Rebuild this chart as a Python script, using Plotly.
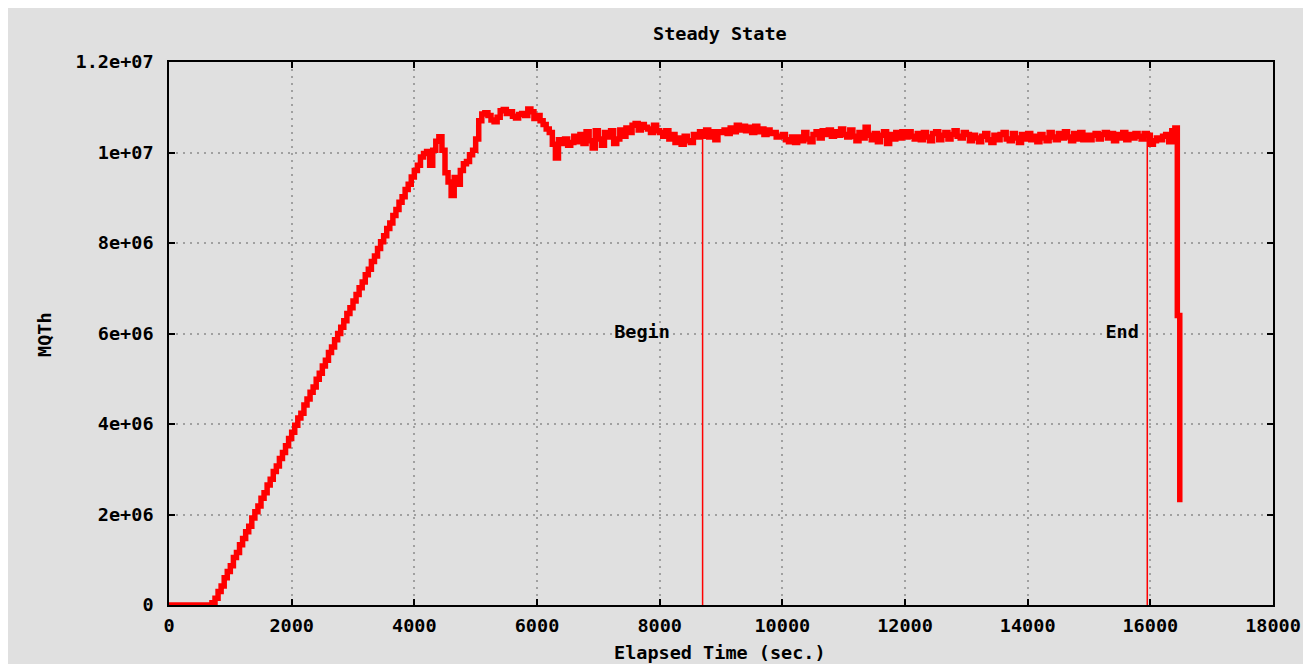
import plotly.graph_objects as go

# ---------------- data ----------------
SAMPLE_STEP_S = 50  # seconds between regular samples

# MQTh in millions, one row per 1000 s (20 samples of 50 s), starting at t = 0
mqth_regular_millions = [
    # 0 - 950
    0, 0, 0, 0, 0, 0, 0, 0, 0, 0, 0, 0, 0, 0, 0.05, 0.15, 0.30, 0.42, 0.60, 0.74,
    # 1000 - 1950
    0.87, 1.05, 1.16, 1.33, 1.47, 1.62, 1.74, 1.92, 2.06, 2.19, 2.36, 2.48, 2.65, 2.78, 2.95, 3.07, 3.24, 3.37, 3.52, 3.68,
    # 2000 - 2950
    3.82, 3.97, 4.13, 4.24, 4.42, 4.55, 4.70, 4.82, 4.99, 5.12, 5.28, 5.41, 5.58, 5.70, 5.86, 6.00, 6.14, 6.28, 6.44, 6.57,
    # 3000 - 3950
    6.72, 6.86, 7.01, 7.14, 7.30, 7.42, 7.59, 7.71, 7.88, 8.03, 8.16, 8.32, 8.44, 8.61, 8.74, 8.90, 9.02, 9.18, 9.30, 9.46,
    # 4000 - 4950
    9.60, 9.72, 9.90, 9.98, 10.02, 9.72, 10.05, 10.25, 10.35, 10.05, 9.55, 9.35, 9.05, 9.45, 9.30, 9.60, 9.75, 9.80, 9.95, 10.05,
    # 5000 - 5950
    10.30, 10.70, 10.85, 10.88, 10.82, 10.72, 10.68, 10.78, 10.92, 10.95, 10.86, 10.90, 10.80, 10.76, 10.84, 10.86, 10.82, 10.96, 10.90, 10.75,
    # 6000 - 6950
    10.82, 10.70, 10.62, 10.52, 10.44, 10.18, 9.88, 10.28, 10.20, 10.30, 10.16, 10.22, 10.36, 10.24, 10.40, 10.20, 10.46, 10.26, 10.10, 10.48,
    # 7000 - 7950
    10.30, 10.16, 10.44, 10.34, 10.48, 10.20, 10.30, 10.50, 10.36, 10.54, 10.44, 10.60, 10.64, 10.50, 10.62, 10.56, 10.52, 10.44, 10.60, 10.48,
    # 8000 - 8950
    10.44, 10.36, 10.48, 10.30, 10.40, 10.22, 10.32, 10.18, 10.36, 10.26, 10.22, 10.40, 10.34, 10.46, 10.36, 10.50, 10.34, 10.46, 10.28, 10.46,
    # 9000 - 9950
    10.44, 10.50, 10.42, 10.54, 10.46, 10.60, 10.50, 10.58, 10.48, 10.56, 10.44, 10.58, 10.46, 10.52, 10.40, 10.50, 10.42, 10.44, 10.34, 10.36,
    # 10000 - 10950
    10.40, 10.28, 10.24, 10.34, 10.22, 10.34, 10.26, 10.44, 10.30, 10.24, 10.40, 10.46, 10.32, 10.48, 10.40, 10.50, 10.36, 10.46, 10.38, 10.52,
    # 11000 - 11950
    10.40, 10.34, 10.50, 10.36, 10.26, 10.44, 10.32, 10.56, 10.38, 10.28, 10.42, 10.24, 10.38, 10.46, 10.20, 10.40, 10.30, 10.44, 10.32, 10.46,
    # 12000 - 12950
    10.34, 10.46, 10.36, 10.30, 10.42, 10.28, 10.44, 10.34, 10.26, 10.42, 10.46, 10.28, 10.38, 10.44, 10.30, 10.40, 10.48, 10.36, 10.32, 10.44,
    # 13000 - 13950
    10.40, 10.26, 10.38, 10.32, 10.24, 10.36, 10.42, 10.28, 10.22, 10.38, 10.28, 10.40, 10.44, 10.30, 10.26, 10.42, 10.32, 10.22, 10.40, 10.30,
    # 14000 - 14950
    10.42, 10.28, 10.36, 10.24, 10.40, 10.32, 10.26, 10.44, 10.34, 10.28, 10.42, 10.32, 10.46, 10.34, 10.26, 10.42, 10.30, 10.44, 10.28, 10.38,
    # 15000 - 15950
    10.28, 10.38, 10.42, 10.30, 10.40, 10.44, 10.32, 10.42, 10.26, 10.40, 10.32, 10.44, 10.28, 10.40, 10.32, 10.42, 10.36, 10.30, 10.42, 10.38,
    # 16000 - 16400
    10.18, 10.26, 10.32, 10.28, 10.36, 10.40, 10.24, 10.48, 10.54,
]

# final ramp-down samples
tail_time_s = [16440, 16480]
tail_mqth_millions = [6.40, 2.27]

# steady-state window markers
begin_time_s = 8700
end_time_s = 15950
marker_top_millions = 10.4
label_level_millions = 6.0
label_times_s = [7712, 15540]
label_texts = ["Begin", "End"]

x_tick_vals = [0, 2000, 4000, 6000, 8000, 10000, 12000, 14000, 16000, 18000]
y_tick_vals = [0, 2e6, 4e6, 6e6, 8e6, 1e7, 1.2e7]
y_tick_text = ["0", "2e+06", "4e+06", "6e+06", "8e+06", "1e+07", "1.2e+07"]

# ---------------- build series ----------------
time_s = [SAMPLE_STEP_S * i for i in range(len(mqth_regular_millions))] + tail_time_s
mqth = [v * 1e6 for v in mqth_regular_millions + tail_mqth_millions]

# ---------------- figure ----------------
OFF = 8  # page body margin
W, H = 1308, 656
L, R, T, B = 161, 43, 54, 59
plot_w = W - L - R
plot_h = H - T - B

def px_x(px):  # page pixel -> paper x
    return (px - OFF - L) / plot_w

def px_y(py):  # page pixel -> paper y
    return (H - B - (py - OFF)) / plot_h

FONT = "DejaVu Sans Mono"
RED = "#ff0000"
GRID = "#a0a0a0"
FS = 18.5

fig = go.Figure()

for tx in (begin_time_s, end_time_s):
    fig.add_trace(go.Scatter(
        x=[tx, tx], y=[0, marker_top_millions * 1e6],
        mode="lines", line=dict(color=RED, width=1.5),
        showlegend=False, hoverinfo="skip",
    ))

fig.add_trace(go.Scatter(
    x=time_s, y=mqth, mode="lines",
    line=dict(color=RED, width=5.5, shape="hv"),
    showlegend=False,
))

fig.add_trace(go.Scatter(
    x=label_times_s, y=[label_level_millions * 1e6] * len(label_times_s),
    mode="text", text=label_texts,
    textfont=dict(family=FONT, size=FS, color="black", weight="bold"),
    showlegend=False, hoverinfo="skip",
))

axis_common = dict(
    showline=True, linecolor="black", linewidth=1.5, mirror="ticks",
    ticks="inside", ticklen=6, tickwidth=1.5, tickcolor="black",
    showgrid=True, gridcolor=GRID, gridwidth=1.5, griddash="2px,5px",
    zeroline=False,
    tickfont=dict(family=FONT, size=FS, color="black", weight="bold"),
)

fig.update_xaxes(range=[0, 18000], tickvals=x_tick_vals,
                 ticktext=[str(v) for v in x_tick_vals],
                 ticklabelstandoff=3, **axis_common)
fig.update_yaxes(range=[0, 1.2e7], tickvals=y_tick_vals, ticktext=y_tick_text,
                 ticklabelstandoff=10, **axis_common)

title_font = dict(family=FONT, size=FS, color="black", weight="bold")
fig.update_layout(
    width=W, height=H, autosize=False,
    margin=dict(l=L, r=R, t=T, b=B, pad=0),
    paper_bgcolor="white",
    plot_bgcolor="#e0e0e0",
    shapes=[dict(type="rect", xref="paper", yref="paper", layer="below",
                 x0=px_x(6), x1=px_x(1303), y0=px_y(700), y1=px_y(6),
                 fillcolor="#e0e0e0", line=dict(width=0))],
    annotations=[
        dict(text="Steady State", xref="paper", yref="paper",
             x=px_x(720), y=px_y(33), showarrow=False, font=title_font,
             xanchor="center", yanchor="middle"),
        dict(text="Elapsed Time (sec.)", xref="paper", yref="paper",
             x=px_x(720), y=px_y(652), showarrow=False, font=title_font,
             xanchor="center", yanchor="middle"),
        dict(text="MQTh", xref="paper", yref="paper", textangle=-90,
             x=px_x(45), y=px_y(335), showarrow=False, font=title_font,
             xanchor="center", yanchor="middle"),
    ],
)

fig.write_html("out.html")
